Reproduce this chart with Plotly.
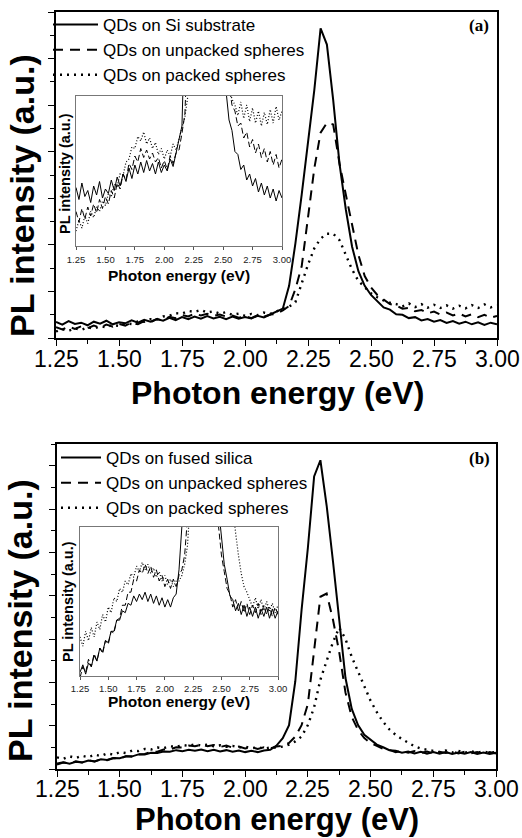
import plotly.graph_objects as go

# ---------------- data ----------------
ENERGY = [1.250, 1.275, 1.300, 1.325, 1.350, 1.375, 1.400, 1.425, 1.450, 1.475,
          1.500, 1.525, 1.550, 1.575, 1.600, 1.625, 1.650, 1.675, 1.700, 1.725,
          1.750, 1.775, 1.800, 1.825, 1.850, 1.875, 1.900, 1.925, 1.950, 1.975,
          2.000, 2.025, 2.050, 2.075, 2.100, 2.125, 2.150, 2.175, 2.200, 2.225,
          2.250, 2.275, 2.300, 2.325, 2.350, 2.375, 2.400, 2.425, 2.450, 2.475,
          2.500, 2.525, 2.550, 2.575, 2.600, 2.625, 2.650, 2.675, 2.700, 2.725,
          2.750, 2.775, 2.800, 2.825, 2.850, 2.875, 2.900, 2.925, 2.950, 2.975,
          3.000]

# panel (a)
SI_SUBSTRATE_A = [0.049, 0.041, 0.052, 0.043, 0.047, 0.039, 0.050, 0.044, 0.053, 0.042,
                  0.048, 0.045, 0.054, 0.047, 0.056, 0.050, 0.058, 0.053, 0.062, 0.055,
                  0.064, 0.058, 0.066, 0.059, 0.067, 0.060, 0.065, 0.058, 0.066, 0.059,
                  0.064, 0.060, 0.068, 0.063, 0.072, 0.080, 0.090, 0.160, 0.290, 0.440,
                  0.600, 0.760, 0.950, 0.900, 0.730, 0.535, 0.395, 0.280, 0.205, 0.160,
                  0.132, 0.112, 0.094, 0.087, 0.073, 0.071, 0.061, 0.064, 0.054, 0.058,
                  0.050, 0.055, 0.046, 0.052, 0.044, 0.050, 0.042, 0.048, 0.040, 0.047,
                  0.042]
UNPACKED_A = [0.033, 0.026, 0.035, 0.028, 0.036, 0.030, 0.038, 0.032, 0.041, 0.035,
              0.043, 0.038, 0.047, 0.042, 0.052, 0.048, 0.058, 0.054, 0.065, 0.061,
              0.070, 0.066, 0.075, 0.069, 0.074, 0.068, 0.072, 0.066, 0.069, 0.062,
              0.067, 0.061, 0.070, 0.065, 0.072, 0.074, 0.085, 0.098, 0.150, 0.220,
              0.370, 0.520, 0.630, 0.660, 0.655, 0.535, 0.440, 0.345, 0.255, 0.190,
              0.155, 0.132, 0.118, 0.104, 0.100, 0.090, 0.092, 0.082, 0.086, 0.076,
              0.081, 0.072, 0.078, 0.069, 0.075, 0.066, 0.073, 0.064, 0.071, 0.062,
              0.068]
PACKED_A = [0.020, 0.027, 0.022, 0.030, 0.025, 0.033, 0.029, 0.036, 0.033, 0.040,
            0.037, 0.045, 0.043, 0.051, 0.050, 0.058, 0.057, 0.066, 0.068, 0.076,
            0.075, 0.083, 0.080, 0.086, 0.078, 0.082, 0.075, 0.079, 0.071, 0.075,
            0.068, 0.074, 0.070, 0.078, 0.074, 0.082, 0.090, 0.096, 0.110, 0.170,
            0.225, 0.275, 0.305, 0.320, 0.320, 0.300, 0.255, 0.210, 0.175, 0.155,
            0.137, 0.125, 0.115, 0.108, 0.104, 0.097, 0.106, 0.095, 0.104, 0.093,
            0.102, 0.092, 0.100, 0.090, 0.099, 0.091, 0.101, 0.092, 0.103, 0.094,
            0.100]

# panel (b)
FUSED_SILICA_B = [0.017, 0.021, 0.016, 0.022, 0.020, 0.026, 0.023, 0.030, 0.028, 0.034,
                  0.033, 0.039, 0.039, 0.045, 0.045, 0.050, 0.049, 0.054, 0.053, 0.058,
                  0.055, 0.059, 0.056, 0.060, 0.055, 0.059, 0.054, 0.058, 0.053, 0.057,
                  0.052, 0.056, 0.052, 0.057, 0.059, 0.072, 0.095, 0.135, 0.270, 0.490,
                  0.680, 0.900, 0.950, 0.810, 0.640, 0.450, 0.280, 0.185, 0.135, 0.105,
                  0.089, 0.075, 0.067, 0.058, 0.056, 0.050, 0.054, 0.048, 0.053, 0.047,
                  0.052, 0.047, 0.052, 0.046, 0.051, 0.047, 0.052, 0.046, 0.051, 0.046,
                  0.050]
UNPACKED_B = [0.014, 0.020, 0.017, 0.024, 0.020, 0.027, 0.023, 0.030, 0.027, 0.034,
              0.032, 0.039, 0.038, 0.045, 0.046, 0.053, 0.053, 0.060, 0.060, 0.067,
              0.066, 0.072, 0.070, 0.075, 0.070, 0.074, 0.068, 0.072, 0.066, 0.069,
              0.063, 0.067, 0.062, 0.067, 0.063, 0.069, 0.072, 0.080, 0.100, 0.135,
              0.200, 0.370, 0.530, 0.540, 0.460, 0.360, 0.235, 0.160, 0.120, 0.095,
              0.080, 0.071, 0.062, 0.059, 0.052, 0.056, 0.050, 0.055, 0.049, 0.054,
              0.048, 0.053, 0.049, 0.054, 0.048, 0.053, 0.048, 0.052, 0.047, 0.052,
              0.048]
PACKED_B = [0.036, 0.031, 0.039, 0.034, 0.041, 0.036, 0.044, 0.040, 0.048, 0.044,
            0.052, 0.049, 0.057, 0.055, 0.062, 0.060, 0.066, 0.064, 0.070, 0.068,
            0.074, 0.071, 0.076, 0.072, 0.075, 0.070, 0.073, 0.068, 0.071, 0.066,
            0.069, 0.064, 0.067, 0.063, 0.066, 0.066, 0.069, 0.075, 0.085, 0.100,
            0.135, 0.190, 0.275, 0.330, 0.390, 0.435, 0.400, 0.345, 0.300, 0.260,
            0.210, 0.175, 0.145, 0.122, 0.105, 0.092, 0.080, 0.070, 0.063, 0.060,
            0.056, 0.052, 0.057, 0.051, 0.056, 0.050, 0.055, 0.050, 0.054, 0.049,
            0.053]

NAMES_A = ["QDs on Si substrate", "QDs on unpacked spheres", "QDs on packed spheres"]
NAMES_B = ["QDs on fused silica", "QDs on unpacked spheres", "QDs on packed spheres"]
X_TICKS = [1.25, 1.50, 1.75, 2.00, 2.25, 2.50, 2.75, 3.00]
X_TICK_TEXT = ["1.25", "1.50", "1.75", "2.00", "2.25", "2.50", "2.75", "3.00"]

for arr in (SI_SUBSTRATE_A, UNPACKED_A, PACKED_A, FUSED_SILICA_B, UNPACKED_B, PACKED_B):
    assert len(arr) == len(ENERGY)

# ---------------- figure ----------------
W, H = 522, 838
def px(x):
    return x / W
def py(y):
    return 1 - y / H

SANS = "Liberation Sans, Arial, sans-serif"
BOLD = "Liberation Sans, Arial, sans-serif"
SERIF = "Liberation Serif, Times New Roman, serif"

styles = [dict(dash="solid", width=2.0),
          dict(dash="10px,7px", width=2.0),
          dict(dash="2px,5px", width=2.4)]
inset_styles = [dict(dash="solid", width=1.0),
                dict(dash="6px,3px", width=1.0),
                dict(dash="1px,2px", width=1.2)]

fig = go.Figure()

panels = [
    dict(series=[SI_SUBSTRATE_A, UNPACKED_A, PACKED_A], names=NAMES_A,
         main=("x", "y"), inset=("x2", "y2"), legend="legend"),
    dict(series=[FUSED_SILICA_B, UNPACKED_B, PACKED_B], names=NAMES_B,
         main=("x3", "y3"), inset=("x4", "y4"), legend="legend2"),
]

for p in panels:
    for s, name, st in zip(p["series"], p["names"], styles):
        fig.add_trace(go.Scatter(x=ENERGY, y=s, mode="lines", name=name,
                                 xaxis=p["main"][0], yaxis=p["main"][1],
                                 line=dict(color="black", **st),
                                 legend=p["legend"]))
    for s, st in zip(p["series"], inset_styles):
        fig.add_trace(go.Scatter(x=ENERGY, y=s, mode="lines", showlegend=False,
                                 xaxis=p["inset"][0], yaxis=p["inset"][1],
                                 line=dict(color="black", **st)))

def main_x(domain, anchor):
    return dict(domain=domain, anchor=anchor, range=[1.25, 3.0], automargin=False,
                tickvals=X_TICKS, showticklabels=False,
                ticks="outside", ticklen=6, tickwidth=1.2, tickcolor="black",
                minor=dict(dtick=0.125, tick0=1.25, ticks="outside", ticklen=4,
                           tickcolor="black", tickwidth=1),
                showline=True, linecolor="black", linewidth=1.5, mirror=True,
                showgrid=False, zeroline=False)

def main_y(domain, anchor, dtick):
    return dict(domain=domain, anchor=anchor, range=[0, 1], automargin=False,
                tick0=0, dtick=2 * dtick, showticklabels=False,
                ticks="outside", ticklen=6, tickwidth=1.2, tickcolor="black",
                minor=dict(dtick=dtick, tick0=0, ticks="outside", ticklen=4,
                           tickcolor="black", tickwidth=1),
                showline=True, linecolor="black", linewidth=1.5, mirror=True,
                showgrid=False, zeroline=False)

def inset_x(domain, anchor, standoff):
    return dict(domain=domain, anchor=anchor, range=[1.25, 3.0], automargin=False,
                tickvals=X_TICKS, ticktext=X_TICK_TEXT,
                ticks="outside", ticklen=3, tickcolor="#555", tickwidth=1,
                ticklabelstandoff=standoff,
                showline=True, linecolor="#777", linewidth=1, mirror=True,
                showgrid=False, zeroline=False,
                tickfont=dict(family=SANS, size=9.5, color="#222"))

def inset_y(domain, anchor, rng):
    return dict(domain=domain, anchor=anchor, range=rng, automargin=False,
                showticklabels=False, ticks="",
                showline=True, linecolor="#777", linewidth=1, mirror=True,
                showgrid=False, zeroline=False)

fig.update_layout(
    template="none",
    width=W, height=H, margin=dict(l=0, r=0, t=0, b=0, autoexpand=False),
    paper_bgcolor="white", plot_bgcolor="rgba(0,0,0,0)",
    xaxis=main_x([px(56), px(497)], "y"),
    yaxis=main_y([py(338), py(12)], "x", 1 / 14),
    xaxis2=inset_x([px(76), px(282)], "y2", 2),
    yaxis2=inset_y([py(246), py(96)], "x2", [0.01, 0.11]),
    xaxis3=main_x([px(57), px(496)], "y3"),
    yaxis3=main_y([py(769), py(444)], "x3", 1 / 15),
    xaxis4=inset_x([px(80), px(278)], "y4", 1),
    yaxis4=inset_y([py(676), py(527)], "x4", [0.015, 0.095]),
    legend=dict(x=px(48), y=py(7), xanchor="left", yanchor="top",
                bgcolor="rgba(0,0,0,0)", borderwidth=0, itemwidth=45,
                tracegroupgap=0, font=dict(family=SANS, size=17, color="black")),
    legend2=dict(x=px(56), y=py(440), xanchor="left", yanchor="top",
                 bgcolor="rgba(0,0,0,0)", borderwidth=0, itemwidth=40,
                 tracegroupgap=0, font=dict(family=SANS, size=17, color="black")),
    showlegend=True,
)

ann = []
def text(x, y, t, size, family=BOLD, bold=True, angle=0, color="black"):
    ann.append(dict(x=px(x), y=py(y), xref="paper", yref="paper",
                    text=f"<b>{t}</b>" if bold else t, showarrow=False,
                    textangle=angle, xanchor="center", yanchor="middle",
                    font=dict(family=family, size=size, color=color)))

# main-axis tick labels, placed on the energy scale of each panel's x axis
for xref, ylab in (("x", 359), ("x3", 789)):
    for v, t in zip(X_TICKS, X_TICK_TEXT):
        ann.append(dict(x=v, xref=xref, y=py(ylab), yref="paper", text=t,
                        showarrow=False, xanchor="center", yanchor="middle",
                        font=dict(family=SANS, size=23, color="black")))

# panel (a)
text(277, 393, "Photon energy (eV)", 32)
text(22, 196, "PL intensity (a.u.)", 34, angle=-90)
text(179, 275, "Photon energy (eV)", 15.5)
text(65, 174, "PL intensity (a.u.)", 14.5, angle=-90)
text(479, 25, "(a)", 17, family=SERIF)
# panel (b)
text(277, 819, "Photon energy (eV)", 31)
text(20, 621, "PL intensity (a.u.)", 34, angle=-90)
text(179, 701, "Photon energy (eV)", 15.5)
text(68, 602, "PL intensity (a.u.)", 14.5, angle=-90)
text(479, 458, "(b)", 17, family=SERIF)

fig.update_layout(annotations=ann)
fig.write_html("out.html", config={"displayModeBar": False},
               post_script="document.body.style.margin='0px';document.body.style.overflow='hidden';")
